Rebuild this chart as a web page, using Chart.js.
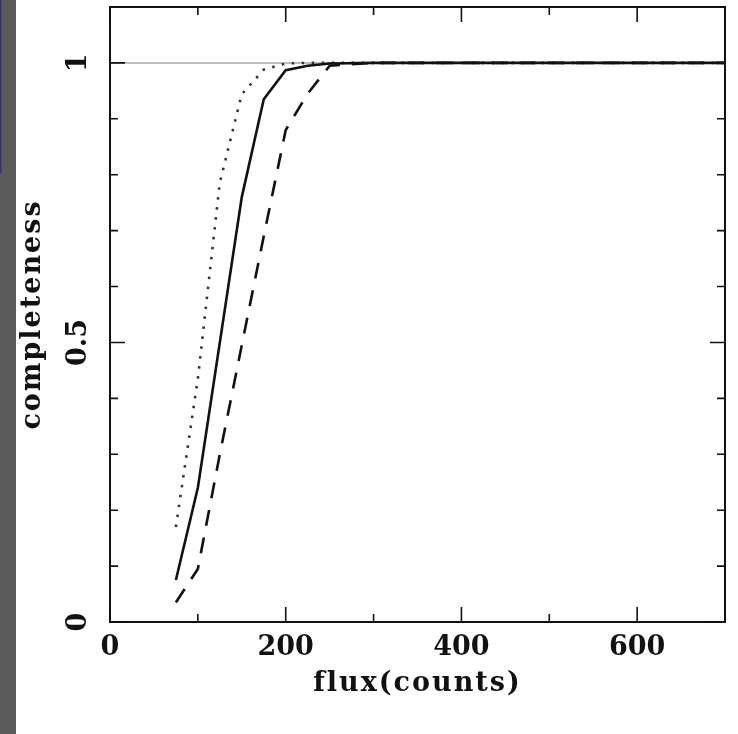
<!DOCTYPE html>
<html>
<head>
<meta charset="utf-8">
<style>
  html, body { margin: 0; padding: 0; background: #fff; }
  #wrap { width: 738px; height: 734px; }
</style>
<script src="https://cdn.jsdelivr.net/npm/chart.js@4/dist/chart.umd.min.js"></script>
</head>
<body>
<div id="wrap"><canvas id="cmp" width="738" height="734"></canvas></div>
<script>
// completeness vs flux
const flux = [75, 100, 125, 150, 175, 200, 225, 250, 300, 350, 400, 450, 500, 550, 600, 650, 700];
const solidCompl  = [0.075, 0.24, 0.50, 0.76, 0.935, 0.987, 0.995, 0.999, 1, 1, 1, 1, 1, 1, 1, 1, 1];
const dottedCompl = [0.17, 0.435, 0.786, 0.944, 0.988, 0.999, 1, 1, 1, 1, 1, 1, 1, 1, 1, 1, 1];
const dashedCompl = [0.035, 0.095, 0.30, 0.495, 0.69, 0.88, 0.945, 0.995, 1, 1, 1, 1, 1, 1, 1, 1, 1];

const xMajor = [0, 200, 400, 600];
const xMinor = [100, 300, 500];
const xTickLabels = ['0', '200', '400', '600'];
const yMajor = [0, 0.5, 1];
const yMinor = [0.1, 0.2, 0.3, 0.4, 0.6, 0.7, 0.8, 0.9];
const yTickLabels = ['0', '0.5', '1'];
const refLevel = 1;

const FONT = '"DejaVu Serif", "Liberation Serif", serif';

const pts = ys => flux.map((x, i) => ({ x: x, y: ys[i] }));

// grey strip on the left edge of the slide; also widen letters for the axis titles
const stripPlugin = {
  id: 'strip',
  beforeDraw(chart) {
    const c = chart.ctx;
    c.save();
    c.fillStyle = '#fff';
    c.fillRect(0, 0, chart.width, chart.height);
    c.fillStyle = '#5b5b5b';
    c.fillRect(0, 0, 16, chart.height);
    c.fillStyle = '#33336e';
    c.fillRect(0, 0, 1.5, 173);
    c.restore();
    c.letterSpacing = '2px';
  }
};

// reference line at completeness = 1
const refLine = {
  id: 'refLine',
  beforeDatasetsDraw(chart) {
    const { ctx: c, chartArea: a, scales } = chart;
    const y = scales.y.getPixelForValue(refLevel);
    c.save();
    c.strokeStyle = '#bdbdbd';
    c.lineWidth = 2;
    c.beginPath();
    c.moveTo(a.left, y); c.lineTo(a.right, y);
    c.stroke();
    c.restore();
  }
};

// box frame, inward ticks on all sides, tick labels
const framePlugin = {
  id: 'frame',
  afterDatasetsDraw(chart) {
    const { ctx: c, chartArea: a, scales } = chart;
    const xs = scales.x, ys = scales.y;
    c.save();
    c.letterSpacing = '0px';
    c.strokeStyle = '#111';
    c.lineWidth = 2;
    c.strokeRect(a.left, a.top, a.right - a.left, a.bottom - a.top);
    c.lineWidth = 1.6;
    c.beginPath();
    const xt = (v, len) => {
      const p = xs.getPixelForValue(v);
      c.moveTo(p, a.bottom); c.lineTo(p, a.bottom - len);
      c.moveTo(p, a.top); c.lineTo(p, a.top + len);
    };
    const yt = (v, len) => {
      const p = ys.getPixelForValue(v);
      c.moveTo(a.left, p); c.lineTo(a.left + len, p);
      c.moveTo(a.right, p); c.lineTo(a.right - len, p);
    };
    xMajor.forEach(v => xt(v, 15));
    xMinor.forEach(v => xt(v, 8));
    yMajor.forEach(v => yt(v, 15));
    yMinor.forEach(v => yt(v, 8));
    c.stroke();

    c.fillStyle = '#111';
    c.font = 'bold 27px ' + FONT;
    c.textAlign = 'center';
    c.textBaseline = 'middle';
    xMajor.forEach((v, i) => c.fillText(xTickLabels[i], xs.getPixelForValue(v), 648));
    yMajor.forEach((v, i) => {
      c.save();
      c.translate(79, ys.getPixelForValue(v));
      c.rotate(-Math.PI / 2);
      c.fillText(yTickLabels[i], 0, 0);
      c.restore();
    });
    c.restore();
  }
};

new Chart(document.getElementById('cmp'), {
  type: 'line',
  data: {
    datasets: [
      { label: 'solid', data: pts(solidCompl), borderColor: '#111', borderWidth: 2.6, pointRadius: 0, tension: 0, fill: false },
      { label: 'dotted', data: pts(dottedCompl), borderColor: '#333', borderWidth: 2.6, borderDash: [2.5, 7.5], pointRadius: 0, tension: 0, fill: false },
      { label: 'dashed', data: pts(dashedCompl), borderColor: '#111', borderWidth: 2.6, borderDash: [16, 12], pointRadius: 0, tension: 0, fill: false }
    ]
  },
  options: {
    responsive: false,
    animation: false,
    layout: { padding: { left: 0, right: 13, top: 7, bottom: 0 } },
    plugins: { legend: { display: false }, tooltip: { enabled: false } },
    scales: {
      x: {
        type: 'linear', min: 0, max: 700,
        grid: { display: false }, border: { display: false },
        ticks: { display: false },
        title: { display: true, text: 'flux(counts)', color: '#111', font: { family: FONT, size: 27, weight: 'bold' }, padding: { top: 0, bottom: 34 } },
        afterFit: s => { s.height = 112; }
      },
      y: {
        type: 'linear', min: 0, max: 1.1,
        grid: { display: false }, border: { display: false },
        ticks: { display: false },
        title: { display: true, text: 'completeness', color: '#111', font: { family: FONT, size: 27, weight: 'bold' }, padding: { top: 17, bottom: 0 } },
        afterFit: s => { s.width = 110; }
      }
    }
  },
  plugins: [stripPlugin, refLine, framePlugin]
});
</script>
</body>
</html>
